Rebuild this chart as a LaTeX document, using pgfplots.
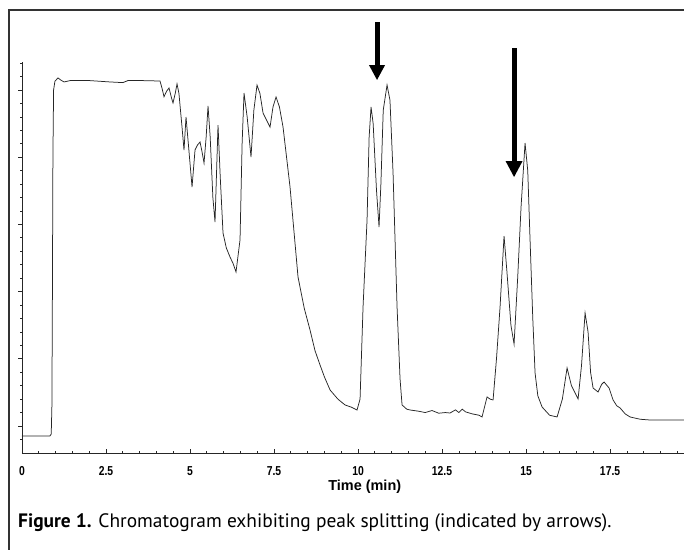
\documentclass[border=0pt]{standalone}
\usepackage{pgfplots}
\pgfplotsset{compat=1.18}
\usepackage{fontspec}
\setmainfont{PT Sans}
\newfontfamily\lsans{Liberation Sans}
\pgfplotstableread{
x y
0 -0.149
0.83 -0.149
0.87 -0.12
0.89 0.3
0.905 2.0
0.92 4.0
0.94 5.0
0.98 5.13
1.07 5.18
1.15 5.15
1.25 5.12
1.43 5.14
2.02 5.14
2.62 5.12
3.0 5.11
3.15 5.14
3.6 5.14
4.107 5.134
4.17 5.02
4.226 4.9
4.3 4.98
4.375 5.03
4.45 4.88
4.494 4.807
4.56 4.95
4.613 5.09
4.67 4.95
4.762 4.449
4.821 4.107
4.881 4.598
4.95 4.2
5.06 3.557
5.149 4.107
5.22 4.18
5.298 4.226
5.35 4.1
5.417 3.914
5.48 4.3
5.536 4.762
5.6 4.3
5.68 3.4
5.744 3.036
5.833 4.479
5.9 3.7
5.982 2.872
6.08 2.65
6.19 2.515
6.28 2.42
6.369 2.292
6.488 2.768
6.55 4.2
6.607 4.955
6.7 4.6
6.815 4.003
6.9 4.7
6.994 5.074
7.08 4.95
7.173 4.658
7.28 4.55
7.381 4.449
7.47 4.75
7.56 4.896
7.66 4.75
7.768 4.449
7.976 3.557
8.214 2.217
8.4 1.75
8.571 1.429
8.72 1.12
8.869 0.908
9.0 0.73
9.167 0.536
9.4 0.4
9.613 0.313
9.8 0.28
9.97 0.238
10.06 0.4
10.149 1.771
10.268 3.065
10.33 4.3
10.387 4.747
10.45 4.5
10.55 3.5
10.625 2.961
10.68 3.6
10.75 4.7
10.863 5.074
10.95 4.85
11.042 3.765
11.161 1.771
11.25 0.7
11.31 0.313
11.45 0.25
11.548 0.238
11.8 0.22
12.0 0.2
12.2 0.23
12.4 0.19
12.6 0.2
12.738 0.193
12.9 0.24
13.0 0.2
13.1 0.25
13.2 0.21
13.4 0.18
13.6 0.16
13.69 0.134
13.839 0.432
13.93 0.4
14.018 0.387
14.12 1.0
14.226 1.771
14.345 2.827
14.43 2.3
14.55 1.5
14.643 1.22
14.75 2.2
14.851 3.259
14.97 4.211
15.05 3.8
15.119 2.768
15.2 1.6
15.268 0.789
15.35 0.45
15.476 0.283
15.7 0.16
15.923 0.134
16.08 0.4
16.22 0.863
16.35 0.6
16.548 0.402
16.65 0.9
16.756 1.682
16.845 1.399
16.92 0.8
16.994 0.565
17.143 0.506
17.25 0.62
17.321 0.655
17.47 0.565
17.589 0.387
17.7 0.3
17.798 0.268
17.95 0.18
18.095 0.134
18.4 0.1
18.69 0.089
19.7 0.089
}\chrom
\begin{document}
\begin{tikzpicture}
\useasboundingbox (0,0) rectangle (684bp,550bp);
\draw[line width=1.6bp, black!80] (9bp,0bp) -- (9bp,540bp) -- (684bp,540bp);
\begin{axis}[
  at={(22bp,97bp)}, anchor=south west,
  scale only axis, width=662bp, height=391bp,
  xmin=0, xmax=19.7, ymin=-0.402, ymax=5.417,
  axis x line*=bottom, axis y line*=left,
  axis line style={-, line width=0.8bp, black!85},
  xtick={0,2.5,5,7.5,10,12.5,15,17.5},
  xticklabels={0,2.5,5,7.5,10,12.5,15,17.5},
  minor xtick={0,0.5,...,19.5},
  ytick={0,1,2,3,4,5}, yticklabels={},
  minor ytick={-0.2,0,0.2,...,5.4},
  xtick align=inside, ytick align=outside,
  major tick length=4bp, minor tick length=2bp,
  tick style={black!85, line width=0.7bp},
  xticklabel style={font=\lsans\bfseries\fontsize{13}{13}\selectfont, inner sep=0pt, yshift=-13bp, xscale=0.8},
  xlabel={Time (min)},
  xlabel style={font=\lsans\bfseries\fontsize{14.5}{14.5}\selectfont, inner sep=0pt, at={(axis cs:10.2,-0.402)}, anchor=north, yshift=-27bp},
  clip=false,
]
\addplot[black!85, line width=0.75bp] table[x=x,y=y] {\chrom};
\draw[line width=5bp] (axis cs:10.565,6.01) -- (axis cs:10.565,5.34);
\fill (axis cs:10.325,5.372) -- (axis cs:10.805,5.372) -- (axis cs:10.565,5.15) -- cycle;
\draw[line width=5bp] (axis cs:14.643,5.625) -- (axis cs:14.643,3.91);
\fill (axis cs:14.39,3.943) -- (axis cs:14.896,3.943) -- (axis cs:14.643,3.705) -- cycle;
\end{axis}
\node[anchor=base west, inner sep=0pt, font=\fontsize{19.5}{19.5}\selectfont] at (18bp,23bp) {\textbf{Figure 1.} Chromatogram exhibiting peak splitting (indicated by arrows).};
\end{tikzpicture}
\end{document}
